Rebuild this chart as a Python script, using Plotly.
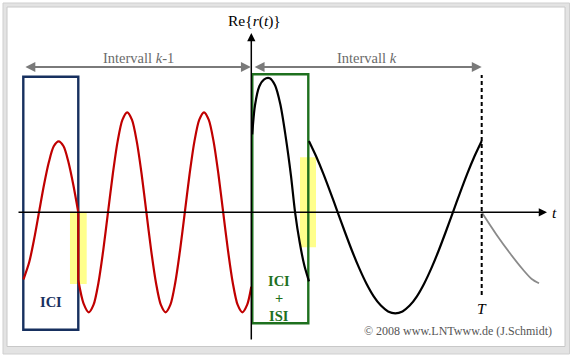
import plotly.graph_objects as go

# ---------------- data (time in units of T, amplitude normalised) ----------------
# red: symbol of interval k-1, first part (inside ICI box)
red_first_t = [-0.9887, -0.9640, -0.9427, -0.9214, -0.9001, -0.8788, -0.8575, -0.8362,
               -0.8149, -0.7935, -0.7722, -0.7509]
red_first_y = [-0.67, -0.50, -0.27, 0.00, 0.27, 0.50, 0.66, 0.71, 0.66, 0.50, 0.27, 0.00]
# red: jump at the box edge
red_jump_t = [-0.7509, -0.7509]
red_jump_y = [0.00, -0.68]
# red: remaining part of interval k-1
red_main_t = [-0.7509, -0.7283,
              -0.7053, -0.6845, -0.6636, -0.6428, -0.6220, -0.6011, -0.5803, -0.5595,
              -0.5386, -0.5178, -0.4970, -0.4761, -0.4553, -0.4345, -0.4136, -0.3928,
              -0.3720, -0.3511, -0.3303, -0.3095, -0.2886, -0.2678, -0.2470, -0.2261,
              -0.2053, -0.1845, -0.1636, -0.1428, -0.1220, -0.1011, -0.0803, -0.0595,
              -0.0387, -0.0178, 0.0]
red_main_y = [-0.68, -0.91,
              -1.0, -0.924, -0.707, -0.383, 0.0, 0.383, 0.707, 0.924,
              1.0, 0.924, 0.707, 0.383, 0.0, -0.383, -0.707, -0.924,
              -1.0, -0.924, -0.707, -0.383, 0.0, 0.383, 0.707, 0.924,
              1.0, 0.924, 0.707, 0.383, 0.0, -0.383, -0.707, -0.924,
              -1.0, -0.924, -0.745]
# black: interval k, part inside ICI+ISI box
blk_isi_t = [0.004, 0.016, 0.035, 0.056, 0.080, 0.103, 0.126, 0.149, 0.172, 0.190, 0.210, 0.230, 0.2504]
blk_isi_y = [0.78, 1.07, 1.26, 1.33, 1.34, 1.27, 1.08, 0.76, 0.37, 0.0, -0.30, -0.53, -0.69]
# black: interval k, undisturbed part
blk_main_t = [0.25, 0.28125, 0.3125, 0.34375, 0.375, 0.40625, 0.4375, 0.46875, 0.5,
              0.53125, 0.5625, 0.59375, 0.625, 0.65625, 0.6875, 0.71875, 0.75,
              0.78125, 0.8125, 0.84375, 0.875, 0.90625, 0.9375, 0.96875, 1.0]
blk_main_y = [0.714, 0.561, 0.387, 0.197, 0.0, -0.197, -0.387, -0.561, -0.714,
              -0.840, -0.933, -0.991, -1.01, -0.991, -0.933, -0.840, -0.714,
              -0.561, -0.387, -0.197, 0.0, 0.197, 0.387, 0.561, 0.714]
# gray: beginning of the next interval
gray_t = [1.0, 1.0651, 1.1228, 1.1806, 1.2170, 1.2487]
gray_y = [0.0, -0.227, -0.41, -0.577, -0.667, -0.71]

# boxes / highlights
box_ici = dict(t0=-0.9896, t1=-0.7509, y0=-1.174, y1=1.356)
box_isi = dict(t0=0.0043, t1=0.2474, y0=-1.11, y1=1.38)
hl_left = dict(t0=-0.787, t1=-0.7144, y0=-0.717, y1=-0.004)
hl_right = dict(t0=0.2114, t1=0.2808, y0=-0.35, y1=0.55)

W, H = 573, 358
RED = "#c00000"
NAVY = "#17305f"
GREEN = "#1e701e"
GRAY = "#7a7a7a"
SERIF = "Liberation Serif, Times New Roman, serif"

fig = go.Figure()

def curve(t, y, color, width=2.2, shape="spline"):
    fig.add_trace(go.Scatter(x=t, y=y, mode="lines",
                             line=dict(color=color, width=width, shape=shape, smoothing=0.8),
                             hoverinfo="skip", showlegend=False))

curve(red_first_t, red_first_y, RED)
curve(red_jump_t, red_jump_y, RED, shape="linear")
curve(red_main_t, red_main_y, RED)
curve(blk_isi_t, blk_isi_y, "black")
curve(blk_main_t, blk_main_y, "black")
curve(gray_t, gray_y, "#8a8a8a", width=1.8)

shapes = []
# frame
shapes.append(dict(type="rect", xref="paper", yref="paper", x0=3/W, x1=569.5/W,
                   y0=1-354/H, y1=1-3/H, fillcolor="#e3e3e3",
                   line=dict(color="#cfcfcf", width=1), layer="below"))
shapes.append(dict(type="rect", xref="paper", yref="paper", x0=7/W, x1=565/W,
                   y0=1-346.5/H, y1=1-7/H, fillcolor="white",
                   line=dict(color="#c8c8c8", width=1), layer="below"))
# yellow highlights
for hl in (hl_left, hl_right):
    shapes.append(dict(type="rect", xref="x", yref="y", x0=hl["t0"], x1=hl["t1"],
                       y0=hl["y0"], y1=hl["y1"], fillcolor="#ffff8c",
                       line=dict(width=0), layer="below"))
# boxes
shapes.append(dict(type="rect", xref="x", yref="y", x0=box_ici["t0"], x1=box_ici["t1"],
                   y0=box_ici["y0"], y1=box_ici["y1"], line=dict(color=NAVY, width=2.4),
                   layer="below"))
shapes.append(dict(type="rect", xref="x", yref="y", x0=box_isi["t0"], x1=box_isi["t1"],
                   y0=box_isi["y0"], y1=box_isi["y1"], line=dict(color=GREEN, width=2.4),
                   layer="below"))
# dashed T line
shapes.append(dict(type="line", xref="x", yref="y", x0=1.0, x1=1.0, y0=-0.827, y1=1.373,
                   line=dict(color="black", width=2, dash="4px,3px")))

annotations = []

def arrow(x, y, ax, ay, color, width, both=False, size=1.1):
    annotations.append(dict(x=x, y=y, ax=ax, ay=ay, xref="x", yref="y", axref="x", ayref="y",
                            text="", showarrow=True, arrowhead=2, arrowsize=size,
                            arrowwidth=width, arrowcolor=color,
                            arrowside="end+start" if both else "end",
                            startarrowhead=2, startarrowsize=size))

# axes
arrow(1.2834, 0.0, -1.0169, 0.0, "black", 1.5)
arrow(0.0, 1.793, 0.0, -1.287, "black", 1.5)
# interval arrows
arrow(-0.002, 1.453, -0.9869, 1.453, GRAY, 1.8, both=True)
arrow(1.0, 1.453, 0.008, 1.453, GRAY, 1.8, both=True)

def label(x, y, text, size=15, color="black", xanchor="center"):
    annotations.append(dict(x=x, y=y, xref="x", yref="y", text=text, showarrow=False,
                            xanchor=xanchor, yanchor="middle",
                            font=dict(family=SERIF, size=size, color=color)))

label(0.016, 1.916, "Re{<i>r</i>(<i>t</i>)}", size=15.5)
label(-0.4905, 1.54, "Intervall <i>k</i>-1", size=14.5, color="#6a6a6a")
label(0.501, 1.54, "Intervall <i>k</i>", size=14.5, color="#6a6a6a")
label(-0.8707, -0.894, "<b>ICI</b>", size=14.5, color=NAVY)
label(0.1215, -0.687, "<b>ICI</b>", size=14.5, color=GREEN)
label(0.1215, -0.854, "<b>+</b>", size=14.5, color=GREEN)
label(0.1215, -1.034, "<b>ISI</b>", size=14.5, color=GREEN)
label(1.0, -0.96, "<i>T</i>", size=15.5)
label(1.318, 0.0, "<i>t</i>", size=15.5)
label(1.3125, -1.184, "© 2008 www.LNTwww.de (J.Schmidt)", size=12, color="#555555",
      xanchor="right")

fig.update_layout(
    width=W, height=H, margin=dict(l=0, r=0, t=0, b=0),
    paper_bgcolor="white", plot_bgcolor="rgba(0,0,0,0)",
    xaxis=dict(range=[-251.3/230.4, (573-251.3)/230.4], visible=False, fixedrange=True),
    yaxis=dict(range=[(212.3-358)/100, 212.3/100], visible=False, fixedrange=True),
    shapes=shapes, annotations=annotations, showlegend=False,
)

fig.write_html("out.html", config={"displayModeBar": False},
               post_script="document.body.style.margin='0';document.body.style.padding='0';"
                           "document.body.style.overflow='hidden';")
